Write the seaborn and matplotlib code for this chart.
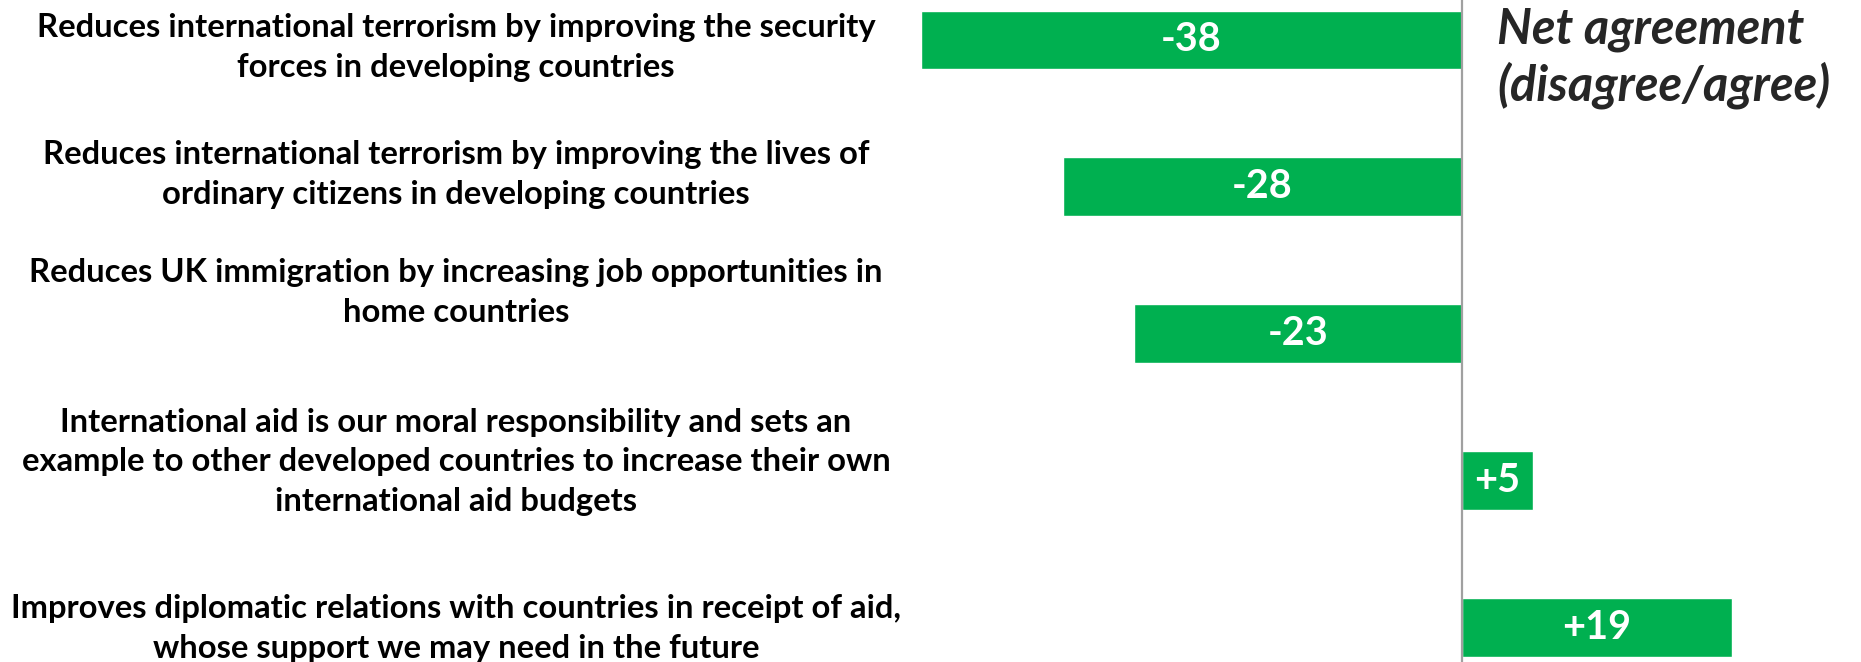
import matplotlib
matplotlib.use("Agg")
import matplotlib.pyplot as plt
import matplotlib.transforms as mtransforms
import seaborn as sns
import pandas as pd

categories = [
    "Reduces international terrorism by improving the security\nforces in developing countries",
    "Reduces international terrorism by improving the lives of\nordinary citizens in developing countries",
    "Reduces UK immigration by increasing job opportunities in\nhome countries",
    "International aid is our moral responsibility and sets an\nexample to other developed countries to increase their own\ninternational aid budgets",
    "Improves diplomatic relations with countries in receipt of aid,\nwhose support we may need in the future",
]
values = [-38, -28, -23, 5, 19]
value_labels = ["-38", "-28", "-23", "+5", "+19"]
title_text = "Net agreement\n(disagree/agree)"

# layout-only offsets of category text blocks (in category units)
label_offsets = [0.05, -0.085, -0.28, -0.13, 0.005]

GREEN = "#00B050"
FONT = ["Lato", "DejaVu Sans"]

sns.set_theme(style="white")
plt.rcParams["font.family"] = FONT

df = pd.DataFrame({"category": categories, "value": values})

fig = plt.figure(figsize=(18.61, 6.62), dpi=100)
ax = fig.add_axes([921 / 1861, 0, 925 / 1861, 1])

sns.barplot(data=df, y="category", x="value", orient="h", color=GREEN,
            saturation=1, width=0.4, ax=ax)

ax.set_xlim(-38, 27)
ax.set_ylim(4.234, -0.272)
ax.axvline(0, color="#A0A0A0", lw=1.6, zorder=5)

for s in ax.spines.values():
    s.set_visible(False)
ax.set_xticks([])
ax.set_yticks([])
ax.set_xlabel("")
ax.set_ylabel("")

# value labels centred in bars
for i, (v, lab) in enumerate(zip(values, value_labels)):
    ax.text(v / 2, i, lab, ha="center", va="center", color="white",
            fontsize=28.5, fontweight="bold")

# category text blocks
trans = mtransforms.blended_transform_factory(fig.transFigure, ax.transData)
for i, (cat, off) in enumerate(zip(categories, label_offsets)):
    ax.text(456 / 1861, i + off, cat, transform=trans, ha="center", va="center",
            multialignment="center", fontsize=23.6, fontweight="bold",
            color="black", linespacing=1.44, clip_on=False)

fig.text(1497 / 1861, 1 - 58 / 662, title_text, ha="left", va="center",
         fontsize=35, fontweight="bold", fontstyle="italic", linespacing=1.24)

fig.savefig("out.png", dpi=100)
